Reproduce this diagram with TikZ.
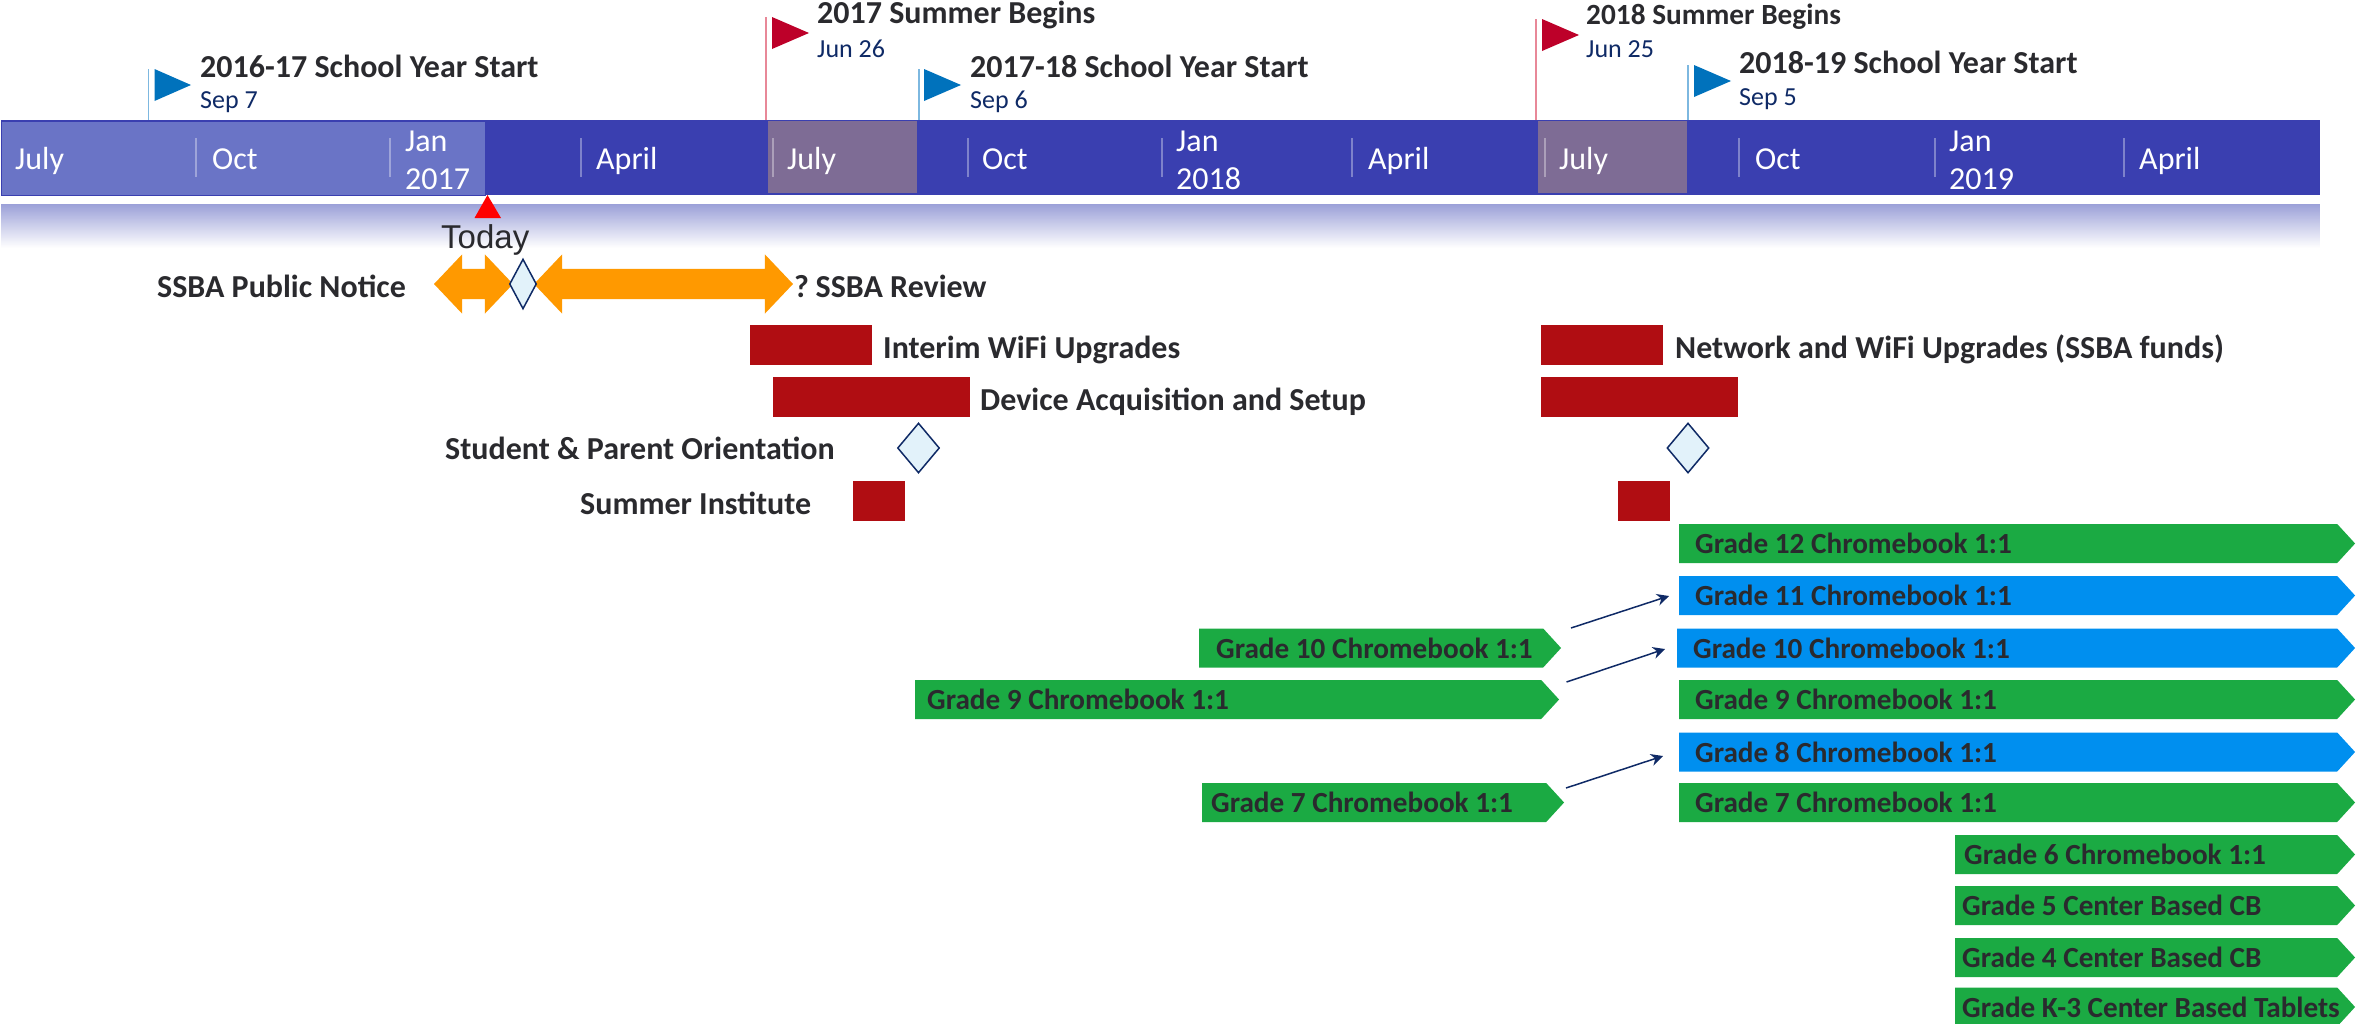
\documentclass[tikz,border=0pt]{standalone}
\usepackage{fontspec}
\setmainfont{Carlito}
\newfontfamily\todayfont{Liberation Sans}
\usetikzlibrary{arrows.meta}
\usetikzlibrary{shapes.geometric}
\usetikzlibrary{shapes.arrows}
\usetikzlibrary{shapes.symbols}
\definecolor{bandblue}{HTML}{3A3FB0}
\definecolor{bandlight}{HTML}{6A74C6}
\definecolor{bandjuly}{HTML}{7E6C95}
\definecolor{stripblue}{HTML}{9BA0D8}
\definecolor{flagblue}{HTML}{0072BC}
\definecolor{poleblue}{HTML}{7DB8E0}
\definecolor{flagred}{HTML}{BD0029}
\definecolor{polered}{HTML}{E88898}
\definecolor{inkdark}{HTML}{2A2A2E}
\definecolor{inknavy}{HTML}{0F2A66}
\definecolor{barred}{HTML}{B00D12}
\definecolor{spanorange}{HTML}{FF9900}
\definecolor{chevgreen}{HTML}{1BAA43}
\definecolor{chevblue}{HTML}{008FEF}
\definecolor{milestone}{HTML}{E2F2FA}
\tikzstyle{heading} = [anchor=base west, inner sep=0pt, text=inkdark, font=\bfseries\fontsize{32}{38}\selectfont]
\tikzstyle{smallhead} = [heading, font=\bfseries\fontsize{29.3}{35}\selectfont]
\tikzstyle{datelabel} = [anchor=base west, inner sep=0pt, text=inknavy, font=\fontsize{26}{31}\selectfont]
\tikzstyle{month} = [anchor=base west, inner sep=0pt, text=white, align=left, font=\fontsize{32}{38}\selectfont]
\tikzstyle{tick} = [draw=white, draw opacity=0.35, line width=2pt]
\tikzstyle{redbar} = [fill=barred, anchor=north west, inner sep=0pt]
\tikzstyle{gem} = [diamond, draw=inknavy, line width=1.5pt, fill=milestone, inner sep=0pt]
\tikzstyle{span} = [double arrow, fill=spanorange, inner sep=15pt, minimum width=59pt, double arrow head extend=14.5pt, double arrow tip angle=93]
\tikzstyle{chev} = [signal, signal to=east, signal from=nowhere, signal pointer angle=95, anchor=west, inner sep=0pt, minimum height=39pt, align=flush left, text=inkdark, font=\bfseries\fontsize{29.2}{35}\selectfont]
\tikzstyle{green} = [chev, fill=chevgreen]
\tikzstyle{blue} = [chev, fill=chevblue]
\tikzstyle{arrow} = [draw=inknavy, line width=1.5pt, -{Stealth[length=12pt, width=12pt]}]

\begin{document}
\begin{tikzpicture}[x=1pt, y=-1pt]
	\useasboundingbox (0,0) rectangle (2356,1023);
	\node[fill=bandblue, anchor=north west, inner sep=0pt, minimum width=2319pt, minimum height=75pt](band) at (1,120){};
	\node[fill=bandlight, draw=bandblue, anchor=north west, inner sep=0pt, minimum width=484pt, minimum height=74pt](past) at (1,120.5){};
	\node[fill=bandjuly, anchor=north west, inner sep=0pt, minimum width=149pt, minimum height=72pt](july17) at (768,121){};
	\node[fill=bandjuly, anchor=north west, inner sep=0pt, minimum width=149pt, minimum height=72pt](july18) at (1538,121){};
	\foreach \i in {0,...,44}{
		\pgfmathtruncatemacro{\tint}{100-100*\i/44}
		\fill[stripblue!\tint!white] (1,204+\i) rectangle (2320,205.5+\i);
	}
	\draw[tick] (196,138) -- (196,177);
	\draw[tick] (390,138) -- (390,177);
	\draw[tick] (581,138) -- (581,177);
	\draw[tick] (773,138) -- (773,177);
	\draw[tick] (967.5,138) -- (967.5,177);
	\draw[tick] (1162,138) -- (1162,177);
	\draw[tick] (1352,138) -- (1352,177);
	\draw[tick] (1545,138) -- (1545,177);
	\draw[tick] (1739,138) -- (1739,177);
	\draw[tick] (1934.5,138) -- (1934.5,177);
	\draw[tick] (2124,138) -- (2124,177);
	\node[month](m1) at (15,169){July};
	\node[month](m2) at (212,169){Oct};
	\node[month](m3) at (405,189){Jan\\2017};
	\node[month](m4) at (596,169){April};
	\node[month](m5) at (787,169){July};
	\node[month](m6) at (982,169){Oct};
	\node[month](m7) at (1176,189){Jan\\2018};
	\node[month](m8) at (1368,169){April};
	\node[month](m9) at (1559,169){July};
	\node[month](m10) at (1755,169){Oct};
	\node[month](m11) at (1949,189){Jan\\2019};
	\node[month](m12) at (2139,169){April};
	\coordinate(pole1) at (148.5,69);
	\coordinate(pole2) at (766,17);
	\coordinate(pole3) at (919,69);
	\coordinate(pole4) at (1536,19);
	\coordinate(pole5) at (1688,65);
	\draw[poleblue, line width=1.5pt](pole1) -- (pole1 |- band.north);
	\draw[polered, line width=1.5pt](pole2) -- (pole2 |- band.north);
	\draw[poleblue, line width=1.5pt](pole3) -- (pole3 |- band.north);
	\draw[polered, line width=1.5pt](pole4) -- (pole4 |- band.north);
	\draw[poleblue, line width=1.5pt](pole5) -- (pole5 |- band.north);
	\fill[flagblue] (154.5,69) -- (191,85) -- (154.5,101) -- cycle;
	\fill[flagred] (772,17) -- (809,33) -- (772,49) -- cycle;
	\fill[flagblue] (924,69) -- (961,85) -- (924,101) -- cycle;
	\fill[flagred] (1542,19) -- (1579,35) -- (1542,51) -- cycle;
	\fill[flagblue] (1694,65) -- (1731,81) -- (1694,97) -- cycle;
	\node[heading](start16) at (200,77){2016-17 School Year Start};
	\node[datelabel](date16) at (200,108){Sep 7};
	\node[heading](summer17) at (817,23.5){2017 Summer Begins};
	\node[datelabel](date17s) at (817,57){Jun 26};
	\node[heading](start17) at (970,77){2017-18 School Year Start};
	\node[datelabel](date17) at (970,108){Sep 6};
	\node[smallhead](summer18) at (1586,24){2018 Summer Begins};
	\node[datelabel](date18s) at (1586,57){Jun 25};
	\node[heading](start18) at (1739,73){2018-19 School Year Start};
	\node[datelabel](date18) at (1739,105){Sep 5};
	\fill[red] (487.5,195) -- (501,218) -- (474.5,218) -- cycle;
	\node[anchor=base west, inner sep=0pt, text=inkdark, font=\todayfont\fontsize{33}{40}\selectfont](today) at (441,248){Today};
	\node[span, minimum height=79pt](notice) at (473.5,284){};
	\node[span, minimum height=259pt](review) at (663.5,284){};
	\node[gem, minimum width=27pt, minimum height=50pt](noticegem) at (523,284){};
	\node[heading](noticetxt) at (157,297){SSBA Public Notice};
	\node[heading](reviewtxt) at (794,297){?\hspace{-3pt} SSBA Review};
	\node[redbar, minimum width=122pt, minimum height=40pt](wifi17) at (750,325){};
	\node[redbar, minimum width=197pt, minimum height=40pt](device17) at (773,377){};
	\node[gem, minimum width=42pt, minimum height=50pt](orient17) at (918.5,448){};
	\node[redbar, minimum width=52pt, minimum height=40pt](inst17) at (853,481){};
	\node[redbar, minimum width=122pt, minimum height=40pt](wifi18) at (1541,325){};
	\node[redbar, minimum width=197pt, minimum height=40pt](device18) at (1541,377){};
	\node[gem, minimum width=42pt, minimum height=50pt](orient18) at (1688,448){};
	\node[redbar, minimum width=52pt, minimum height=40pt](inst18) at (1618,481){};
	\node[heading](wifi17txt) at (883,358){Interim WiFi Upgrades};
	\node[heading](device17txt) at (980,410){Device Acquisition and Setup};
	\node[heading](orienttxt) at (445,459){Student \& Parent Orientation};
	\node[heading](insttxt) at (580,514){Summer Institute};
	\node[heading](wifi18txt) at (1675,358){Network and WiFi Upgrades (SSBA funds)};
	\node[green, text width=658pt](g12) at (1679,543.5){\hspace*{16pt}Grade 12 Chromebook 1:1};
	\node[blue, text width=658pt](g11) at (1679,595.5){\hspace*{16pt}Grade 11 Chromebook 1:1};
	\node[blue, text width=660pt](g10) at (1677,648){\hspace*{16pt}Grade 10 Chromebook 1:1};
	\node[green, text width=658pt](g9) at (1679,699.5){\hspace*{16pt}Grade 9 Chromebook 1:1};
	\node[blue, text width=658pt](g8) at (1679,752){\hspace*{16pt}Grade 8 Chromebook 1:1};
	\node[green, text width=658pt](g7) at (1679,802.5){\hspace*{16pt}Grade 7 Chromebook 1:1};
	\node[green, text width=382pt](g6) at (1955,854.5){\hspace*{9pt}Grade 6 Chromebook 1:1};
	\node[green, text width=382pt](g5) at (1955,905.5){\hspace*{7pt}Grade 5 Center Based CB};
	\node[green, text width=382pt](g4) at (1955,957.5){\hspace*{7pt}Grade 4 Center Based CB};
	\node[green, text width=382pt](gk) at (1955,1007){\hspace*{7pt}\mbox{Grade K-3 Center Based Tablets}};
	\node[green, text width=344pt](old10) at (1199,648){\hspace*{17pt}Grade 10 Chromebook 1:1};
	\node[green, text width=626pt](old9) at (915,699.5){\hspace*{12pt}Grade 9 Chromebook 1:1};
	\node[green, text width=344pt](old7) at (1202,802.5){\hspace*{9pt}Grade 7 Chromebook 1:1};
	\coordinate(from11) at (1571,628);
	\coordinate(to11) at (1669,596);
	\coordinate(from10) at (1566.5,682);
	\coordinate(to10) at (1665,649);
	\coordinate(from8) at (1566,788);
	\coordinate(to8) at (1663,756);
	\draw[arrow](from11) -- (to11);
	\draw[arrow](from10) -- (to10);
	\draw[arrow](from8) -- (to8);
\end{tikzpicture}
\end{document}
